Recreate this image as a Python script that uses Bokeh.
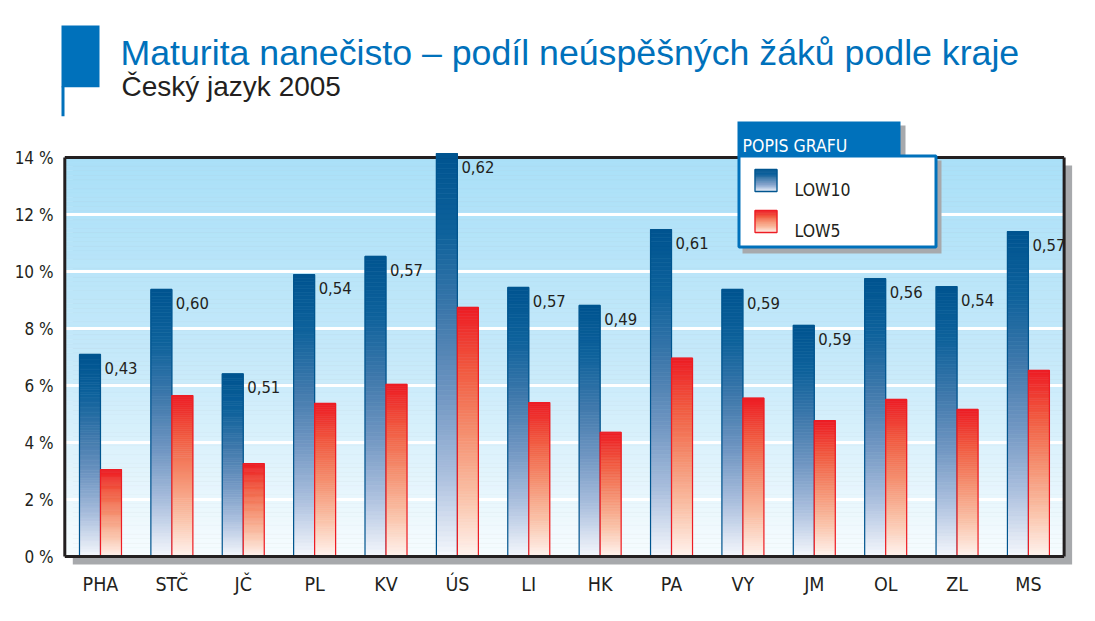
import math
from bokeh.plotting import figure
from bokeh.models import FixedTicker, Range1d
from bokeh.core.properties import value
from bokeh.embed import file_html
from bokeh.resources import INLINE

# ---------------- data ----------------
regions = ["PHA", "STČ", "JČ", "PL", "KV", "ÚS", "LI", "HK", "PA", "VY", "JM", "OL", "ZL", "MS"]
low10 = [7.09, 9.37, 6.41, 9.89, 10.53, 14.14, 9.44, 8.81, 11.47, 9.37, 8.11, 9.75, 9.47, 11.40]
low5 = [3.05, 5.65, 3.26, 5.37, 6.04, 8.74, 5.40, 4.36, 6.96, 5.56, 4.77, 5.51, 5.16, 6.53]
ratios = [0.43, 0.60, 0.51, 0.54, 0.57, 0.62, 0.57, 0.49, 0.61, 0.59, 0.59, 0.56, 0.54, 0.57]
y_ticks = [0, 2, 4, 6, 8, 10, 12, 14]
series_names = ["LOW10", "LOW5"]
title_text = "Maturita nanečisto – podíl neúspěšných žáků podle kraje"
subtitle_text = "Český jazyk 2005"
legend_title = "POPIS GRAFU"

# ---------------- layout constants ----------------
W, H = 1090, 616
ML, MB = 57, 47
PX0, KX = 64.3, 71.38     # page x of category 0, px per category
PY0, KY = 556.0, 28.5     # page y of 0 %, px per 1 %
FL, FR, FT, FB = ML, W, 0, H - MB


def X(px):
    return (px - PX0) / KX


def Y(py):
    return (PY0 - py) / KY


NARROW = "DejaVu Sans Condensed"
BLUE = "#0071BB"
DARK = "#231F20"
SHADOW = "#A7A9AC"

blue_stops = [(0.0, (246, 248, 253)), (0.2, (172, 192, 222)), (0.4, (112, 150, 194)),
              (0.6, (62, 120, 171)), (0.8, (14, 98, 156)), (1.0, (0, 84, 144))]
red_stops = [(0.0, (255, 244, 239)), (0.25, (250, 192, 166)), (0.5, (245, 142, 110)),
             (0.75, (241, 90, 64)), (1.0, (237, 28, 36))]
bg_stops = [(0.0, (247, 252, 254)), (0.5, (197, 233, 250)), (1.0, (170, 224, 248))]


def interp(stops, t):
    t = max(0.0, min(1.0, t))
    for (t0, c0), (t1, c1) in zip(stops[:-1], stops[1:]):
        if t <= t1:
            f = (t - t0) / (t1 - t0) if t1 > t0 else 0
            return "#%02x%02x%02x" % tuple(int(round(a + (b - a) * f)) for a, b in zip(c0, c1))
    c = stops[-1][1]
    return "#%02x%02x%02x" % c


p = figure(width=W, height=H, output_backend="svg", toolbar_location=None,
           x_range=Range1d(X(FL), X(FR)), y_range=Range1d(Y(FB), Y(FT)),
           min_border_left=ML, min_border_right=0, min_border_top=0, min_border_bottom=MB,
           background_fill_color="white", border_fill_color="white")
p.outline_line_color = None
p.xgrid.visible = False
p.ygrid.visible = False

# ---------------- axes ----------------
p.yaxis.ticker = FixedTicker(ticks=y_ticks)
p.yaxis.major_label_overrides = {v: f"{v} %" for v in y_ticks}
p.xaxis.ticker = FixedTicker(ticks=[i + 0.5 for i in range(len(regions))])
p.xaxis.major_label_overrides = {i + 0.5: r for i, r in enumerate(regions)}
for ax in (p.xaxis, p.yaxis):
    ax.axis_line_color = None
    ax.major_tick_line_color = None
    ax.minor_tick_line_color = None
    ax.major_tick_in = 0
    ax.major_tick_out = 0
    ax.major_label_text_font = NARROW
    ax.major_label_text_color = DARK
p.yaxis.major_label_text_font_size = "17px"
p.yaxis.major_label_standoff = 4
p.xaxis.major_label_text_font_size = "19.5px"
p.xaxis.major_label_standoff = 3

n = len(regions)
top = y_ticks[-1]

# ---------------- shadow + background ----------------
dx, dy = 8 / KX, 8 / KY
p.quad(left=[0 + dx], right=[n + dx], bottom=[0 - dy], top=[top - dy],
       fill_color=SHADOW, line_color=None)
NB = 90
bb = [top * k / NB for k in range(NB)]
bt = [top * (k + 1) / NB for k in range(NB)]
bc = [interp(bg_stops, (b + t) / 2 / top) for b, t in zip(bb, bt)]
p.quad(left=[0] * NB, right=[n] * NB, bottom=bb, top=bt, fill_color=bc, line_color=bc, line_width=0.6)

# gridlines
p.segment(x0=[0] * (len(y_ticks) - 2), x1=[n] * (len(y_ticks) - 2),
          y0=y_ticks[1:-1], y1=y_ticks[1:-1], line_color="white", line_width=3)
# top border (behind bars)
p.segment(x0=[0], x1=[n], y0=[top], y1=[top], line_color=DARK, line_width=3)

# ---------------- bars ----------------
bw = 21 / KX
NS = 80


def grad_bar(l, r, v, stops):
    lefts, rights, bots, tops, cols = [], [], [], [], []
    for k in range(NS):
        b = v * k / NS
        t = v * (k + 1) / NS
        lefts.append(l)
        rights.append(r)
        bots.append(b)
        tops.append(t)
        cols.append(interp(stops, (k + 0.5) / NS))
    return lefts, rights, bots, tops, cols


for vals, stops, off, outline in ((low10, blue_stops, -bw, "#00558F"), (low5, red_stops, 0, "#ED1C24")):
    L_, R_, B_, T_, C_ = [], [], [], [], []
    for i, v in enumerate(vals):
        c = i + 0.5
        l, r = c + off, c + off + bw
        a, b, cc, d, e = grad_bar(l, r, v, stops)
        L_ += a; R_ += b; B_ += cc; T_ += d; C_ += e
    p.quad(left=L_, right=R_, bottom=B_, top=T_, fill_color=C_, line_color=C_, line_width=0.6)
    p.quad(left=[i + 0.5 + off for i in range(n)], right=[i + 0.5 + off + bw for i in range(n)],
           bottom=[0] * n, top=vals, fill_color=None, line_color=outline, line_width=1.2)

# value labels
p.text(x=[i + 0.5 for i in range(n)], y=low10,
       text=[f"{r:.2f}".replace(".", ",") for r in ratios],
       x_offset=4, y_offset=13.5, text_align="left", text_baseline="alphabetic",
       text_font=value(NARROW), text_font_size="16.5px", text_color=DARK)

# remaining borders
p.segment(x0=[0, 0, n], x1=[n, 0, n], y0=[0, 0, 0], y1=[0, top, top],
          line_color=DARK, line_width=3)

# ---------------- legend box ----------------
p.quad(left=[X(742)], right=[X(941)], bottom=[Y(253)], top=[Y(160)], fill_color=SHADOW, line_color=None)
p.quad(left=[X(741)], right=[X(905)], bottom=[Y(155)], top=[Y(125)], fill_color=SHADOW, line_color=None)
p.quad(left=[X(737)], right=[X(900)], bottom=[Y(156)], top=[Y(121)], fill_color=BLUE, line_color=None)
p.quad(left=[X(738.5)], right=[X(935.5)], bottom=[Y(246.5)], top=[Y(155.5)],
       fill_color="white", line_color=BLUE, line_width=3)
p.text(x=[X(742)], y=[Y(145)], text=[legend_title], text_font=value(NARROW),
       text_font_size="17.5px", text_color="white", text_baseline="alphabetic")

for (y_top, y_bot), stops, outline, name in (((169, 191), blue_stops, "#00558F", series_names[0]),
                                              ((210, 232), red_stops, "#ED1C24", series_names[1])):
    ks = 20
    sl = [X(754.5)] * ks
    sr = [X(776.5)] * ks
    sb = [Y(y_bot) + (Y(y_top) - Y(y_bot)) * k / ks for k in range(ks)]
    st = [Y(y_bot) + (Y(y_top) - Y(y_bot)) * (k + 1) / ks for k in range(ks)]
    sc = [interp(stops, (k + 0.5) / ks) for k in range(ks)]
    p.quad(left=sl, right=sr, bottom=sb, top=st, fill_color=sc, line_color=sc, line_width=0.6)
    p.quad(left=[X(754.5)], right=[X(776.5)], bottom=[Y(y_bot)], top=[Y(y_top)],
           fill_color=None, line_color=outline, line_width=1.3)
    p.text(x=[X(794)], y=[Y(y_bot - 2)], text=[name], text_font=value(NARROW),
           text_font_size="17.5px", text_color=DARK, text_baseline="alphabetic")

# ---------------- title block ----------------
p.quad(left=[X(61)], right=[X(99)], bottom=[Y(86.7)], top=[Y(25)], fill_color=BLUE, line_color=None)
p.quad(left=[X(61)], right=[X(64)], bottom=[Y(115.7)], top=[Y(86)], fill_color=BLUE, line_color=None)
p.text(x=[X(120)], y=[Y(52)], text=[title_text], text_font=value("Liberation Sans"),
       text_font_size="35.7px", text_color=BLUE, text_baseline="alphabetic")
p.text(x=[X(121)], y=[Y(86)], text=[subtitle_text], text_font=value("Liberation Sans"),
       text_font_size="28px", text_color=DARK, text_baseline="alphabetic")

open("out.html", "w").write(file_html(p, INLINE))
